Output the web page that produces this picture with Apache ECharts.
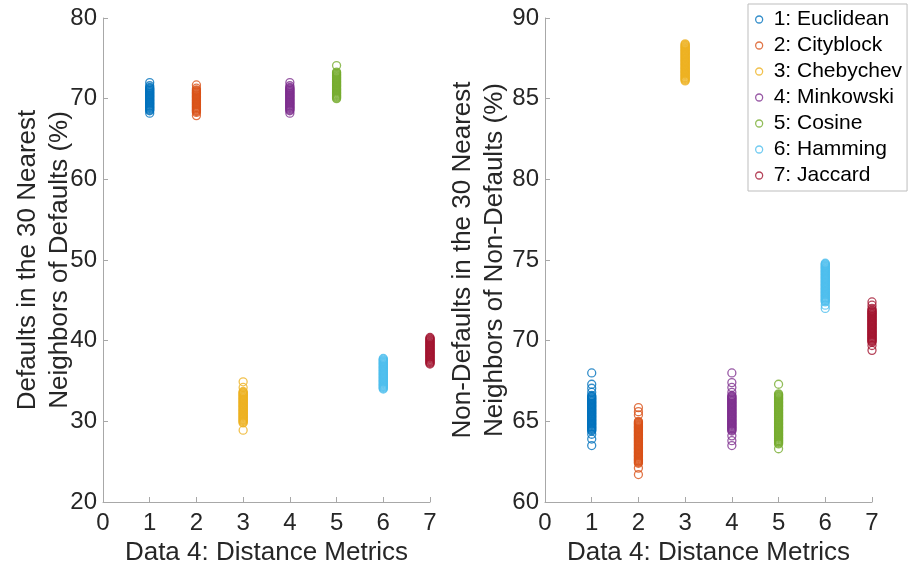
<!DOCTYPE html>
<html>
<head>
<meta charset="utf-8">
<script src="https://cdn.jsdelivr.net/npm/echarts@6/dist/echarts.min.js"></script>
<style>html,body{margin:0;padding:0;background:#fff}#c{width:921px;height:579px}</style>
</head>
<body>
<div id="c"></div>
<script>
var names = ['1: Euclidean', '2: Cityblock', '3: Chebychev', '4: Minkowski', '5: Cosine', '6: Hamming', '7: Jaccard'];
var colors = ['#0072BD', '#D95319', '#EDB120', '#7E2F8E', '#77AC30', '#4DBEEE', '#A2142F'];

// Left panel: Defaults in the 30 nearest neighbors of defaults (%)
var euc1 = [72.0, 71.6, 71.4, 71.3, 71.2, 71.1, 71.0, 70.9, 70.8, 70.7, 70.6, 70.5, 70.4, 70.3, 70.2, 70.1, 70.0, 69.9, 69.8, 69.7, 69.6, 69.5, 69.4, 69.3, 69.2, 69.1, 69.0, 68.9, 68.8, 68.7, 68.6, 68.5, 68.2];
var city1 = [71.7, 71.3, 71.1, 71.0, 70.9, 70.8, 70.7, 70.6, 70.5, 70.4, 70.3, 70.2, 70.1, 70.0, 69.9, 69.8, 69.7, 69.6, 69.5, 69.4, 69.3, 69.2, 69.1, 69.0, 68.9, 68.8, 68.7, 68.6, 68.5, 68.4, 68.3, 67.9];
var cheb1 = [34.9, 34.2, 33.7, 33.6, 33.5, 33.4, 33.3, 33.2, 33.1, 33.0, 32.9, 32.8, 32.7, 32.6, 32.5, 32.4, 32.3, 32.2, 32.1, 32.0, 31.9, 31.8, 31.7, 31.6, 31.5, 31.4, 31.3, 31.2, 31.1, 31.0, 30.9, 30.8, 30.7, 30.6, 30.5, 30.4, 30.3, 30.2, 30.1, 30.0, 29.9, 29.8, 28.9];
var mink1 = [72.0, 71.6, 71.4, 71.3, 71.2, 71.1, 71.0, 70.9, 70.8, 70.7, 70.6, 70.5, 70.4, 70.3, 70.2, 70.1, 70.0, 69.9, 69.8, 69.7, 69.6, 69.5, 69.4, 69.3, 69.2, 69.1, 69.0, 68.9, 68.8, 68.7, 68.6, 68.5, 68.2];
var cos1 = [74.1, 73.3, 73.2, 73.1, 73.0, 72.9, 72.8, 72.7, 72.6, 72.5, 72.4, 72.3, 72.2, 72.1, 72.0, 71.9, 71.8, 71.7, 71.6, 71.5, 71.4, 71.3, 71.2, 71.1, 71.0, 70.9, 70.8, 70.7, 70.6, 70.5, 70.4, 70.3, 70.2, 70.1, 70.0];
var ham1 = [37.8, 37.7, 37.6, 37.5, 37.4, 37.3, 37.2, 37.1, 37.0, 36.9, 36.8, 36.7, 36.6, 36.5, 36.4, 36.3, 36.2, 36.1, 36.0, 35.9, 35.8, 35.7, 35.6, 35.5, 35.4, 35.3, 35.2, 35.1, 35.0, 34.9, 34.8, 34.7, 34.6, 34.5, 34.4, 34.3, 34.2, 34.1, 34.0];
var jac1 = [40.4, 40.3, 40.2, 40.1, 40.0, 39.9, 39.8, 39.7, 39.6, 39.5, 39.4, 39.3, 39.2, 39.1, 39.0, 38.9, 38.8, 38.7, 38.6, 38.5, 38.4, 38.3, 38.2, 38.1, 38.0, 37.9, 37.8, 37.7, 37.6, 37.5, 37.4, 37.3, 37.2, 37.1];

// Right panel: Non-defaults in the 30 nearest neighbors of non-defaults (%)
var euc2 = [68.0, 67.3, 67.05, 66.8, 66.6, 66.55, 66.5, 66.45, 66.4, 66.35, 66.3, 66.25, 66.2, 66.15, 66.1, 66.05, 66.0, 65.95, 65.9, 65.85, 65.8, 65.75, 65.7, 65.65, 65.6, 65.55, 65.5, 65.45, 65.4, 65.35, 65.3, 65.25, 65.2, 65.15, 65.1, 65.05, 65.0, 64.95, 64.9, 64.85, 64.8, 64.75, 64.7, 64.65, 64.6, 64.55, 64.5, 64.45, 64.4, 64.2, 63.9, 63.5];
var city2 = [65.85, 65.6, 65.4, 65.0, 64.95, 64.9, 64.85, 64.8, 64.75, 64.7, 64.65, 64.6, 64.55, 64.5, 64.45, 64.4, 64.35, 64.3, 64.25, 64.2, 64.15, 64.1, 64.05, 64.0, 63.95, 63.9, 63.85, 63.8, 63.75, 63.7, 63.65, 63.6, 63.55, 63.5, 63.45, 63.4, 63.35, 63.3, 63.25, 63.2, 63.15, 63.1, 63.05, 63.0, 62.95, 62.9, 62.85, 62.8, 62.75, 62.7, 62.65, 62.6, 62.55, 62.5, 62.45, 62.4, 62.1, 61.7];
var cheb2 = [88.4, 88.35, 88.3, 88.25, 88.2, 88.15, 88.1, 88.05, 88.0, 87.95, 87.9, 87.85, 87.8, 87.75, 87.7, 87.65, 87.6, 87.55, 87.5, 87.45, 87.4, 87.35, 87.3, 87.25, 87.2, 87.15, 87.1, 87.05, 87.0, 86.95, 86.9, 86.85, 86.8, 86.75, 86.7, 86.65, 86.6, 86.55, 86.5, 86.45, 86.4, 86.35, 86.3, 86.25, 86.2, 86.15, 86.1];
var mink2 = [68.0, 67.4, 67.1, 66.8, 66.6, 66.55, 66.5, 66.45, 66.4, 66.35, 66.3, 66.25, 66.2, 66.15, 66.1, 66.05, 66.0, 65.95, 65.9, 65.85, 65.8, 65.75, 65.7, 65.65, 65.6, 65.55, 65.5, 65.45, 65.4, 65.35, 65.3, 65.25, 65.2, 65.15, 65.1, 65.05, 65.0, 64.95, 64.9, 64.85, 64.8, 64.75, 64.7, 64.65, 64.6, 64.55, 64.5, 64.45, 64.4, 64.1, 63.8, 63.5];
var cos2 = [67.3, 66.7, 66.65, 66.6, 66.55, 66.5, 66.45, 66.4, 66.35, 66.3, 66.25, 66.2, 66.15, 66.1, 66.05, 66.0, 65.95, 65.9, 65.85, 65.8, 65.75, 65.7, 65.65, 65.6, 65.55, 65.5, 65.45, 65.4, 65.35, 65.3, 65.25, 65.2, 65.15, 65.1, 65.05, 65.0, 64.95, 64.9, 64.85, 64.8, 64.75, 64.7, 64.65, 64.6, 64.55, 64.5, 64.45, 64.4, 64.35, 64.3, 64.25, 64.2, 64.15, 64.1, 64.05, 64.0, 63.95, 63.9, 63.85, 63.8, 63.75, 63.7, 63.65, 63.6, 63.3];
var ham2 = [74.8, 74.75, 74.7, 74.65, 74.6, 74.55, 74.5, 74.45, 74.4, 74.35, 74.3, 74.25, 74.2, 74.15, 74.1, 74.05, 74.0, 73.95, 73.9, 73.85, 73.8, 73.75, 73.7, 73.65, 73.6, 73.55, 73.5, 73.45, 73.4, 73.35, 73.3, 73.25, 73.2, 73.15, 73.1, 73.05, 73.0, 72.95, 72.9, 72.85, 72.8, 72.75, 72.7, 72.65, 72.6, 72.55, 72.5, 72.45, 72.4, 72.2, 72.0];
var jac2 = [72.4, 72.2, 72.0, 71.9, 71.85, 71.8, 71.75, 71.7, 71.65, 71.6, 71.55, 71.5, 71.45, 71.4, 71.35, 71.3, 71.25, 71.2, 71.15, 71.1, 71.05, 71.0, 70.95, 70.9, 70.85, 70.8, 70.75, 70.7, 70.65, 70.6, 70.55, 70.5, 70.45, 70.4, 70.35, 70.3, 70.25, 70.2, 70.15, 70.1, 70.05, 70.0, 69.95, 69.9, 69.7, 69.4];

var left = [euc1, city1, cheb1, mink1, cos1, ham1, jac1];
var right = [euc2, city2, cheb2, mink2, cos2, ham2, jac2];

var FONT = '"Liberation Sans", Arial, Helvetica, sans-serif';
var TXT = '#262626';
var AX = '#a8a8a8';

function mkSeries(arrs, gi) {
  return arrs.map(function (vals, i) {
    return {
      type: 'scatter',
      name: names[i],
      xAxisIndex: gi, yAxisIndex: gi,
      symbol: 'circle',
      symbolSize: 8,
      itemStyle: { color: 'rgba(255,255,255,0)', borderColor: colors[i], borderWidth: 1.3 },
      emphasis: { disabled: true },
      data: vals.map(function (v) { return [i + 1, v]; })
    };
  });
}

function xAxis(gi) {
  return {
    type: 'value', gridIndex: gi, min: 0, max: 7, interval: 1,
    name: 'Data 4: Distance Metrics', nameLocation: 'middle', nameGap: 38,
    nameMoveOverlap: false,
    nameTextStyle: { fontFamily: FONT, fontSize: 26, color: TXT },
    axisLine: { show: true, lineStyle: { color: AX, width: 1 } },
    axisTick: { show: true, inside: true, length: 5, lineStyle: { color: AX } },
    axisLabel: { fontFamily: FONT, fontSize: 24, color: TXT, margin: 9 },
    splitLine: { show: false }
  };
}
function yAxis(gi, min, max, interval, name, gap) {
  return {
    type: 'value', gridIndex: gi, min: min, max: max, interval: interval,
    name: name, nameLocation: 'middle', nameRotate: 90, nameGap: gap,
    nameMoveOverlap: false,
    nameTextStyle: { fontFamily: FONT, fontSize: 26, color: TXT, lineHeight: 32 },
    axisLine: { show: true, lineStyle: { color: AX, width: 1 } },
    axisTick: { show: true, inside: true, length: 5, lineStyle: { color: AX } },
    axisLabel: { fontFamily: FONT, fontSize: 24, color: TXT, margin: 6 },
    splitLine: { show: false }
  };
}

var chart = echarts.init(document.getElementById('c'), null, { renderer: 'canvas' });
chart.setOption({
  animation: false,
  backgroundColor: '#fff',
  color: colors,
  legend: {
    data: names.map(function (n, i) { return { name: n, itemStyle: { color: 'rgba(255,255,255,0)', borderColor: colors[i], borderWidth: 1.3 } }; }),
    orient: 'vertical', left: 748, top: 4,
    backgroundColor: '#fff', borderColor: '#bdbdbd', borderWidth: 1,
    padding: [5, 5, 5, 7], itemGap: 5, itemWidth: 7, itemHeight: 7,
    icon: 'circle', selectedMode: false,
    textStyle: { fontFamily: FONT, fontSize: 21, color: '#000', lineHeight: 21, padding: [0, 0, 0, 6] }
  },
  grid: [
    { left: 103, top: 18, width: 327, height: 484 },
    { left: 545, top: 18, width: 327, height: 484 }
  ],
  xAxis: [xAxis(0), xAxis(1)],
  yAxis: [
    yAxis(0, 20, 80, 10, 'Defaults in the 30 Nearest\nNeighbors of Defaults (%)', 27),
    yAxis(1, 60, 90, 5, 'Non-Defaults in the 30 Nearest\nNeighbors of Non-Defaults (%)', 34)
  ],
  series: mkSeries(left, 0).concat(mkSeries(right, 1))
});
</script>
</body>
</html>
